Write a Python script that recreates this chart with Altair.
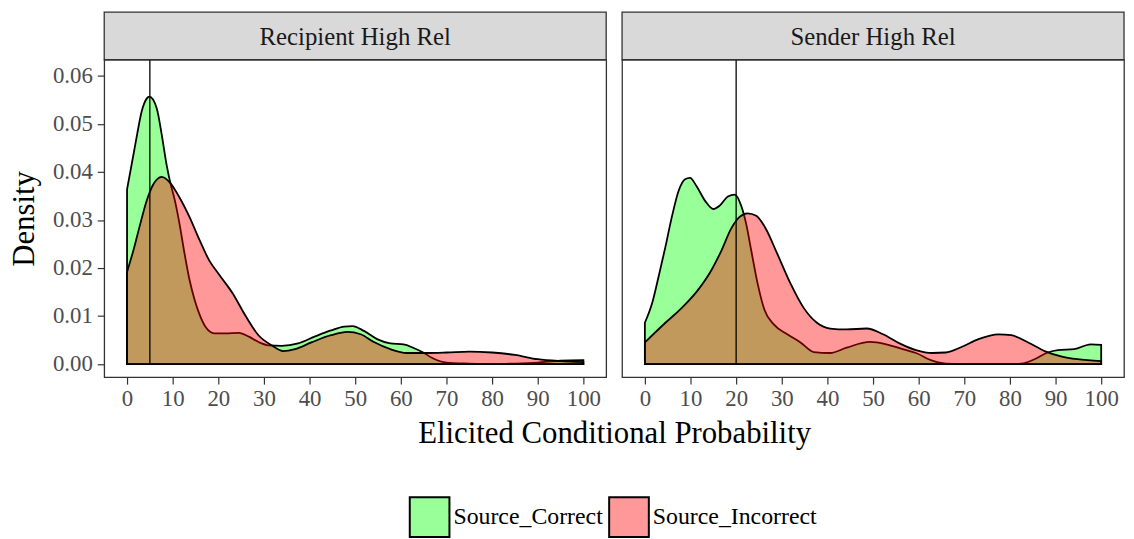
import altair as alt
import pandas as pd

# ---------------- data ----------------
panels = ["Recipient High Rel", "Sender High Rel"]
groups = ["Source_Correct", "Source_Incorrect"]
ref_lines = [5, 20]
x_ticks = [0, 10, 20, 30, 40, 50, 60, 70, 80, 90, 100]
y_ticks = [0.00, 0.01, 0.02, 0.03, 0.04, 0.05, 0.06]

# Recipient High Rel - Source_Correct
rc_x = [0, 1.4, 2.2, 3.2, 4.3, 4.9, 6.5, 7.6, 8.65, 9.4, 10.5, 11.5, 12.6, 13.7, 14.8,
        15.9, 17.3, 19.1, 21.6, 24.5, 26.7, 28.8, 31, 33.9, 37.5, 41.1, 44.7, 47.6,
        49.4, 51.9, 54.8, 57.7, 60.6, 62.7, 64.9, 67, 70, 75, 80, 85, 90, 95, 100]
rc_y = [0.0364, 0.0436, 0.0478, 0.0526, 0.0553, 0.0557, 0.0533, 0.0478, 0.0416, 0.0381,
        0.0340, 0.0292, 0.0230, 0.0175, 0.0134, 0.0103, 0.0076, 0.0064, 0.0064, 0.0065,
        0.0057, 0.0046, 0.0039, 0.0038, 0.0043, 0.0057, 0.0070, 0.0078, 0.0079, 0.0069,
        0.0052, 0.0043, 0.0041, 0.0034, 0.0024, 0.0012, 0.0003, 0.0001, 0.0000, 0.0001,
        0.0003, 0.0007, 0.0008]

# Recipient High Rel - Source_Incorrect
ri_x = [0, 1.4, 2.9, 4.3, 5.8, 7.6, 9.4, 11.5, 13.7, 15.9, 18, 20.2, 23.1, 26, 28.8,
        31.7, 34.2, 36.8, 40.4, 44.7, 48.3, 51.2, 54.1, 57.7, 61.3, 65.6, 70, 75, 80,
        85, 90, 95, 100]
ri_y = [0.0192, 0.0237, 0.0292, 0.0340, 0.0375, 0.0390, 0.0378, 0.0347, 0.0306, 0.0258,
        0.0216, 0.0186, 0.0148, 0.0100, 0.0060, 0.0039, 0.0027, 0.0031, 0.0045, 0.0060,
        0.0067, 0.0062, 0.0046, 0.0031, 0.0023, 0.0023, 0.0024, 0.0026, 0.0024, 0.0019,
        0.0010, 0.0006, 0.0004]

# Sender High Rel - Source_Correct
sc_x = [0, 1.6, 3, 4.5, 5.9, 7.4, 8.8, 9.9, 11.3, 13.2, 15, 16.4, 18.2, 19.7, 21.1,
        22.2, 23.3, 24.7, 26.2, 28.3, 31.2, 34.1, 37, 40.6, 44.2, 49.3, 52.9, 56.5,
        59.4, 63, 65.9, 70, 75, 80, 82.5, 85.4, 88.3, 90.5, 94.1, 97.7, 100]
sc_y = [0.0086, 0.0127, 0.0182, 0.0244, 0.0306, 0.0361, 0.0385, 0.0388, 0.0371, 0.0340,
        0.0323, 0.0330, 0.0349, 0.0353, 0.0330, 0.0292, 0.0237, 0.0168, 0.0113, 0.0082,
        0.0062, 0.0045, 0.0025, 0.0023, 0.0034, 0.0046, 0.0041, 0.0031, 0.0023, 0.0007,
        0.0001, 0.0000, 0.0000, 0.0000, 0.0001, 0.0010, 0.0024, 0.0029, 0.0031, 0.0041,
        0.0040]

# Sender High Rel - Source_Incorrect
si_x = [0, 4.5, 8.1, 11.7, 14.6, 16.8, 18.9, 20.7, 22.5, 24.4, 26.5, 29, 31.9, 34.8,
        37.7, 40.6, 44.2, 48.6, 52.2, 55.8, 59.4, 63, 65.9, 69.5, 73.1, 77.5, 80.3, 84,
        87.6, 91.2, 94.8, 100]
si_y = [0.0045, 0.0086, 0.0117, 0.0155, 0.0196, 0.0237, 0.0282, 0.0306, 0.0314, 0.0309,
        0.0282, 0.0230, 0.0168, 0.0117, 0.0086, 0.0074, 0.0072, 0.0074, 0.0062, 0.0043,
        0.0029, 0.0023, 0.0024, 0.0036, 0.0052, 0.0062, 0.0060, 0.0045, 0.0027, 0.0016,
        0.0010, 0.0006]

curves = {
    panels[0]: [(groups[0], rc_x, rc_y), (groups[1], ri_x, ri_y)],
    panels[1]: [(groups[0], sc_x, sc_y), (groups[1], si_x, si_y)],
}

# ---------------- styling ----------------
FONT = "Liberation Serif"
W, H, STRIP_H, GAP = 506, 320, 48, 16
X_DOM = [-5, 105]
Y_DOM = [-0.00274, 0.0634]
# pure green / red at alpha 0.4 (as ggplot alpha = 0.4)
colors = ["rgba(0,255,0,0.4)", "rgba(255,0,0,0.4)"]


def make_panel(i):
    name = panels[i]
    rows = []
    for g, xs, ys in curves[name]:
        for xv, yv in zip(xs, ys):
            rows.append({"x": xv, "density": yv, "group": g})
    df = pd.DataFrame(rows)

    first = i == 0
    common = dict(
        values=x_ticks, format="d", grid=False, domain=False,
        tickSize=7, tickColor="#333333", tickWidth=1.2,
        labelFont=FONT, labelFontSize=23, labelColor="#4d4d4d", labelPadding=4,
    )
    if first:
        x_axis = alt.Axis(
            title="Elicited Conditional Probability",
            titleFont=FONT, titleFontSize=31, titleFontWeight="normal", titleColor="black",
            titleX=(2 * W + GAP) / 2, titlePadding=8, **common,
        )
        y_axis = alt.Axis(
            values=y_ticks, format=".2f", grid=False, domain=False,
            tickSize=7, tickColor="#333333", tickWidth=1.2,
            labelFont=FONT, labelFontSize=23, labelColor="#4d4d4d", labelPadding=5,
            title="Density", titleFont=FONT, titleFontSize=31, titleFontWeight="normal",
            titleColor="black", titlePadding=12,
        )
    else:
        x_axis = alt.Axis(title=None, **common)
        y_axis = None

    area = alt.Chart(df).mark_area(
        interpolate="monotone", stroke="black", strokeWidth=1.8,
    ).encode(
        x=alt.X("x:Q", scale=alt.Scale(domain=X_DOM, nice=False, zero=False), axis=x_axis),
        y=alt.Y("density:Q", stack=None,
                scale=alt.Scale(domain=Y_DOM, nice=False, zero=False), axis=y_axis),
        color=alt.Color(
            "group:N",
            scale=alt.Scale(domain=groups, range=colors),
            legend=alt.Legend(
                title=None, orient="none", direction="horizontal",
                legendX=307, legendY=440,
                symbolType="square", symbolSize=1600, symbolStrokeColor="black",
                symbolStrokeWidth=2,
                labelFont=FONT, labelFontSize=24, labelColor="black", labelLimit=400,
                labelOffset=3, columnPadding=2,
            ),
        ),
    )

    vline = alt.Chart(pd.DataFrame({"x": [ref_lines[i]], "y0": [0.0], "y1": [Y_DOM[1]]})).mark_rule(
        color="black", strokeWidth=1.3
    ).encode(x="x:Q", y="y0:Q", y2="y1:Q")

    strip_df = pd.DataFrame({"panel": [name]})
    strip_box = alt.Chart(strip_df).mark_rect(
        fill="#d9d9d9", stroke="#333333", strokeWidth=1.3
    ).encode(
        x=alt.value(0), x2=alt.value(W), y=alt.value(-STRIP_H), y2=alt.value(0)
    )
    strip_text = alt.Chart(strip_df).mark_text(
        font=FONT, fontSize=25, color="#1a1a1a", baseline="middle", align="center"
    ).encode(text="panel:N", x=alt.value(W / 2), y=alt.value(-STRIP_H / 2 + 1))

    return alt.layer(area, vline, strip_box, strip_text).properties(width=W, height=H)


chart = alt.hconcat(make_panel(0), make_panel(1), spacing=GAP, bounds="flush").properties(
    padding={"left": 0, "top": 0, "right": 0, "bottom": 0}
).configure(
    background="white", font=FONT
).configure_view(
    stroke="#333333", strokeWidth=1.3, fill="white"
).configure_legend(
    labelFont=FONT, labelFontSize=24, labelColor="black"
)

chart.save("out.html", embed_options={"renderer": "svg", "actions": False})
